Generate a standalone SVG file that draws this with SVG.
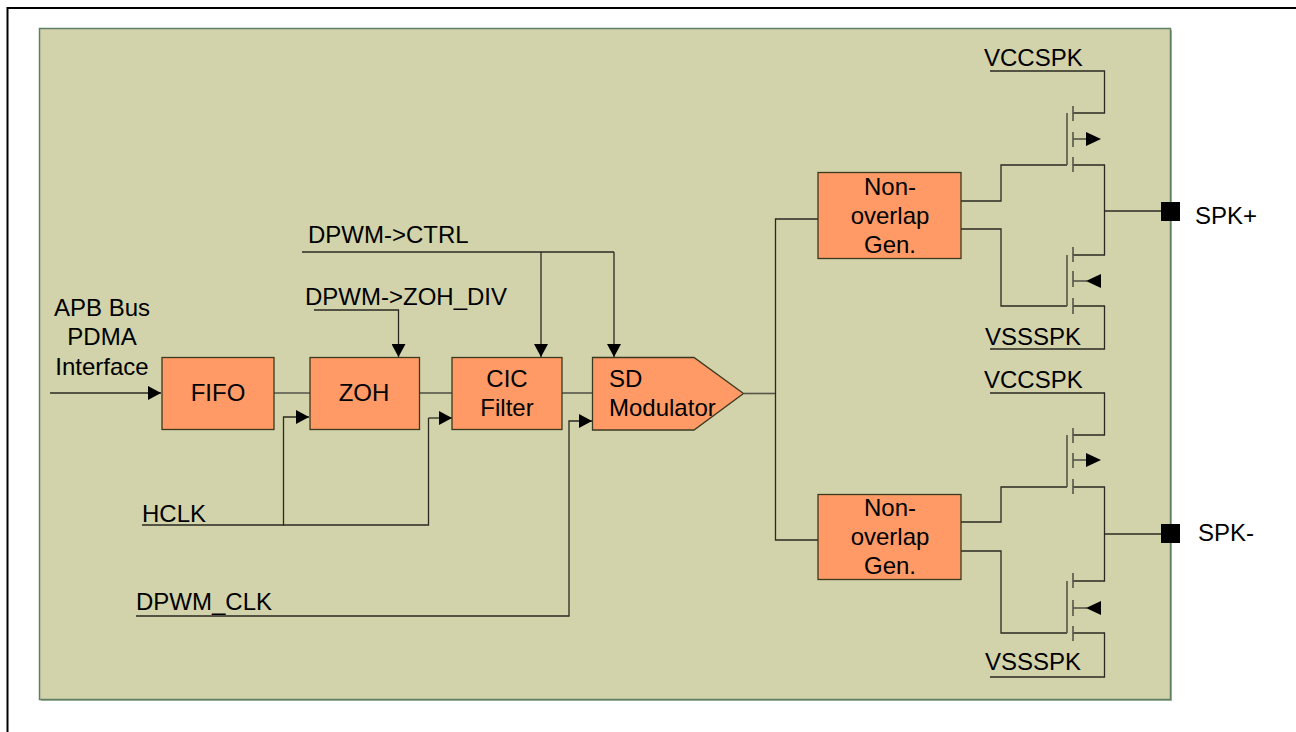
<svg xmlns="http://www.w3.org/2000/svg" width="1296" height="732" viewBox="0 0 1296 732">
<style>
text{font-family:"Liberation Sans",Arial,sans-serif;font-size:24px;fill:#000}
.c{text-anchor:middle}
.b{fill:#ff9966;stroke:#3a3a20;stroke-width:1.3}
.w{fill:none;stroke:#2a2a22;stroke-width:1.3}
.g{fill:none;stroke:#55554a;stroke-width:1.6}
</style>
<defs>
<marker id="a" markerUnits="userSpaceOnUse" markerWidth="14" markerHeight="14" refX="13" refY="7" orient="auto"><path d="M0,0L13,7L0,14Z" fill="#000"/></marker>
</defs>
<rect width="1296" height="732" fill="#fff"/>
<path d="M7.500,732V8H1296" fill="none" stroke="#000" stroke-width="2"/>
<rect id="shadow" x="41" y="30" width="1131" height="671" fill="#a9b9a0"/>
<rect id="panel" x="39.500" y="28.500" width="1131" height="671" fill="#d2d3aa" stroke="#5f8065" stroke-width="1.500"/>
<g id="connectors">
<path class="w" marker-end="url(#a)" d="M50,393H161"/>
<path class="g" d="M274,393H310"/>
<path class="g" d="M420,393H452"/>
<path class="g" d="M562,393H593"/>
<path class="w" marker-end="url(#a)" d="M142,525H283.500V417H309"/>
<path class="w" d="M283,525H428.500V418"/>
<path class="w" marker-end="url(#a)" d="M428.500,418H452"/>
<path class="w" marker-end="url(#a)" d="M136,616H569V421H592"/>
<path class="w" marker-end="url(#a)" d="M314,310H398.500V357"/>
<path class="w" d="M302,252H614"/>
<path class="w" marker-end="url(#a)" d="M541,252V357"/>
<path class="w" marker-end="url(#a)" d="M614,252V357"/>
<path class="g" d="M744,393.500H775"/>
<path class="w" d="M818,219H775.500V540H818"/>
<path class="w" d="M990,71H1104.500V113H1073"/>
<path class="w" d="M1073,165H1104.500V255H1073"/>
<path class="w" d="M1104,211H1162"/>
<path class="w" d="M1073,306H1104.500V349H990"/>
<path class="w" d="M961,201H1001V165H1067"/>
<path class="w" d="M961,229H1001V306H1067"/>
<path class="w" d="M990,393H1104.500V435H1073"/>
<path class="w" d="M1073,487H1104.500V581H1073"/>
<path class="w" d="M1104,534H1162"/>
<path class="w" d="M1073,633H1104.500V677H990"/>
<path class="w" d="M961,522H1001V487H1067"/>
<path class="w" d="M961,551H1001V633H1067"/>
<path class="g" d="M1067,113V165M1073,106V121M1073,132V147M1073,157V172"/>
<path class="g" d="M1073,139H1087"/>
<path class="g" d="M1067,255V306M1073,247V262M1073,271V287M1073,298V314"/>
<path class="g" d="M1073,281H1087"/>
<path class="g" d="M1067,435V487M1073,428V443M1073,453V468M1073,479V494"/>
<path class="g" d="M1073,460H1087"/>
<path class="g" d="M1067,581V633M1073,573V588M1073,600V616M1073,626V641"/>
<path class="g" d="M1073,608H1087"/>
<path d="M1086,132L1101,139L1086,146Z"/>
<path d="M1101,274L1086,281L1101,288Z"/>
<path d="M1086,453L1101,460L1086,467Z"/>
<path d="M1101,601L1086,608L1101,615Z"/>
</g>
<g id="fifo"><rect class="b" x="162" y="357.500" width="112" height="72"/><text class="c" x="218" y="401">FIFO</text></g>
<g id="zoh"><rect class="b" x="310" y="357.500" width="109.500" height="72"/><text class="c" x="364" y="401">ZOH</text></g>
<g id="cic"><rect class="b" x="452" y="357.500" width="110" height="72"/><text class="c" x="507" y="387">CIC</text><text class="c" x="507" y="416">Filter</text></g>
<g id="sd"><path class="b" d="M592.500,357.500H694L743.500,393.500L694,430H592.500Z"/><text x="609" y="387">SD</text><text x="609" y="416">Modulator</text></g>
<g id="gen1"><rect class="b" x="818" y="172.500" width="143" height="86"/><text class="c" x="890" y="195">Non-</text><text class="c" x="890" y="224">overlap</text><text class="c" x="890" y="253">Gen.</text></g>
<g id="gen2"><rect class="b" x="818" y="494.500" width="143" height="85"/><text class="c" x="890" y="516">Non-</text><text class="c" x="890" y="545">overlap</text><text class="c" x="890" y="574">Gen.</text></g>
<g id="spkp"><rect x="1161" y="202" width="19" height="19"/><text x="1195" y="224">SPK+</text></g>
<g id="spkm"><rect x="1161" y="524" width="19" height="19"/><text x="1198" y="541">SPK-</text></g>
<g id="labels">
<text class="c" x="102" y="316">APB Bus</text><text class="c" x="102" y="345">PDMA</text><text class="c" x="102" y="375">Interface</text>
<text x="308" y="243">DPWM-&gt;CTRL</text>
<text x="305" y="305">DPWM-&gt;ZOH_DIV</text>
<text x="142" y="522">HCLK</text>
<text x="136" y="610">DPWM_CLK</text>
<text x="984" y="66">VCCSPK</text>
<text x="985" y="345">VSSSPK</text>
<text x="984" y="388">VCCSPK</text>
<text x="985" y="670">VSSSPK</text>
</g>
</svg>
